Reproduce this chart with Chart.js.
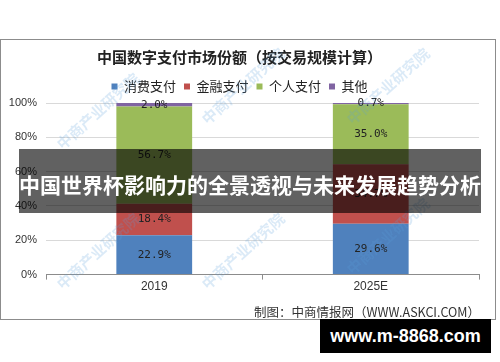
<!DOCTYPE html>
<html>
<head>
<meta charset="utf-8">
<script src="https://cdn.jsdelivr.net/npm/chart.js@4.4.0/dist/chart.umd.min.js"></script>
<style>
  html, body { margin: 0; padding: 0; background: #fff; }
  #wrap { position: relative; width: 500px; height: 362px; overflow: hidden; }
  #frame { position: absolute; left: 0; top: 39px; width: 496px; height: 281px; border: 1px solid #8c8c8c; box-sizing: border-box; }
  #chart { position: absolute; left: 0; top: 0; }
  .wm { position: absolute; font: bold 15px "Noto Sans CJK SC"; color: rgba(90,160,220,0.22); transform: rotate(-42deg); white-space: nowrap; pointer-events: none; }
  #source { position: absolute; right: 20px; top: 302px; font: 12.5px "Noto Sans CJK SC"; color: #333; }
  #banner { position: absolute; left: 19px; top: 149px; width: 462px; height: 64px; background: rgba(0,0,0,0.62);
            color: #fff; font: bold 21px "Noto Sans CJK SC"; line-height: 70px; text-align: center; white-space: nowrap; }
  #url { position: absolute; left: 320px; top: 319px; width: 171px; height: 34px; background: #000; color: #fff;
         font: bold 18px "Liberation Sans", Arial; line-height: 34px; text-align: center; }
</style>
</head>
<body>
<div id="wrap">
  <div id="frame"></div>
  <canvas id="chart" width="500" height="362"></canvas>
  <div class="wm" style="left:45px;top:100px;">中商产业研究院</div>
  <div class="wm" style="left:190px;top:75px;">中商产业研究院</div>
  <div class="wm" style="left:335px;top:75px;">中商产业研究院</div>
  <div class="wm" style="left:45px;top:240px;">中商产业研究院</div>
  <div class="wm" style="left:190px;top:240px;">中商产业研究院</div>
  <div class="wm" style="left:335px;top:225px;">中商产业研究院</div>
  <div id="source">制图：中商情报网（WWW.ASKCI.COM）</div>
  <div id="banner">中国世界杯影响力的全景透视与未来发展趋势分析</div>
  <div id="url">www.m-8868.com</div>
</div>
<script>
const categories = ['2019', '2025E'];
const seriesNames = ['消费支付', '金融支付', '个人支付', '其他'];
const consumer = [22.9, 29.6];
const finance = [18.4, 34.7];
const personal = [56.7, 35.0];
const others = [2.0, 0.7];
const yTicks = [0, 20, 40, 60, 80, 100];
const colors = ['#4F81BD', '#C0504D', '#9BBB59', '#8064A2'];

// 数据标签画在每段中间
const segmentLabels = {
  id: 'segmentLabels',
  afterDatasetsDraw(chart) {
    const ctx = chart.ctx;
    ctx.save();
    ctx.font = '11px "DejaVu Sans Mono"';
    ctx.fillStyle = '#222';
    ctx.textAlign = 'center';
    ctx.textBaseline = 'middle';
    chart.data.datasets.forEach((ds, i) => {
      chart.getDatasetMeta(i).data.forEach((bar, j) => {
        const y = (bar.y + bar.base) / 2;
        ctx.fillText(ds.data[j].toFixed(1) + '%', bar.x, y);
      });
    });
    ctx.restore();
  }
};

const values = [consumer, finance, personal, others];
new Chart(document.getElementById('chart'), {
  type: 'bar',
  data: {
    labels: categories,
    datasets: seriesNames.map((name, i) => ({
      label: name,
      data: values[i],
      backgroundColor: colors[i],
      categoryPercentage: 0.35,
      barPercentage: 1
    }))
  },
  options: {
    responsive: false,
    animation: false,
    layout: { padding: { top: 48, left: 0, right: 21, bottom: 68 } },
    plugins: {
      title: {
        display: true,
        text: '中国数字支付市场份额（按交易规模计算）',
        font: { family: '"Noto Sans CJK SC"', size: 15, weight: 'bold' },
        color: '#222',
        padding: { top: 0, bottom: 6 }
      },
      legend: {
        labels: {
          boxWidth: 6, boxHeight: 6, padding: 8,
          font: { family: '"Noto Sans CJK SC"', size: 13 },
          color: '#222'
        }
      },
      tooltip: { enabled: false }
    },
    scales: {
      x: {
        stacked: true,
        grid: { drawOnChartArea: false, offset: true, tickLength: 5, color: '#8c8c8c' },
        border: { color: '#8c8c8c' },
        ticks: { font: { family: '"Liberation Sans"', size: 12 }, color: '#333', padding: 0 }
      },
      y: {
        stacked: true,
        min: 0, max: 100,
        afterBuildTicks: s => { s.ticks = yTicks.map(v => ({ value: v })); },
        afterFit: s => { s.width = 46; },
        grid: { color: '#d9d9d9', drawTicks: false },
        border: { display: false },
        ticks: { callback: v => v + '%', font: { family: '"Liberation Sans"', size: 11 }, color: '#333', padding: 9 }
      }
    }
  },
  plugins: [segmentLabels]
});
</script>
</body>
</html>
